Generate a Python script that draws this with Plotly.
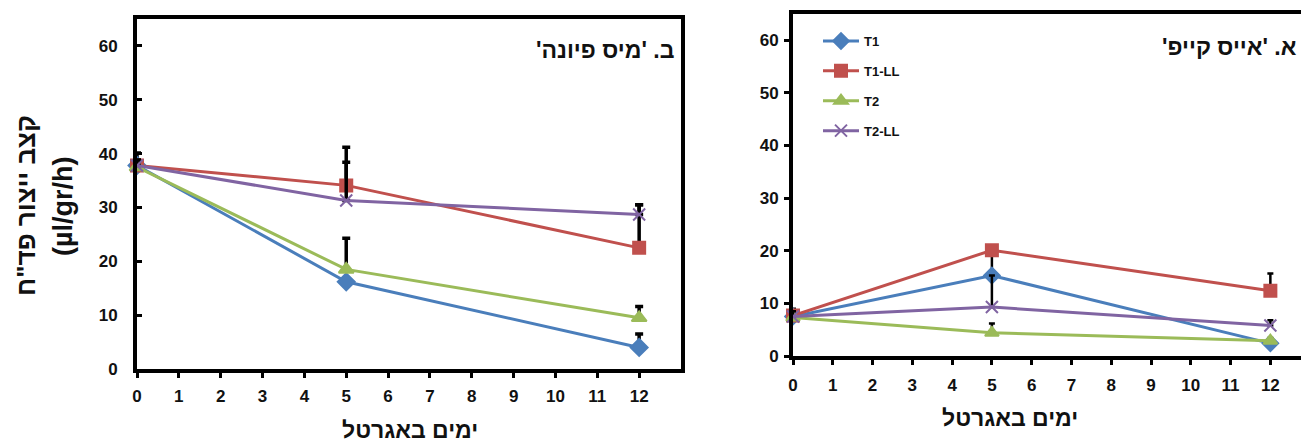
import plotly.graph_objects as go

days = [0, 5, 12]
series_names = ["T1", "T1-LL", "T2", "T2-LL"]

# Panel B: 'מיס פיונה' (left)
b_T1 = [37.8, 16.2, 4.0]
b_T1LL = [37.8, 34.1, 22.5]
b_T2 = [37.5, 18.5, 9.5]
b_T2LL = [37.8, 31.3, 28.7]
b_T1_err = [2.3, 0.5, 2.5]
b_T1LL_err = [1.0, 7.1, 8.0]
b_T2_err = [1.0, 5.8, 2.1]
b_T2LL_err = [1.0, 7.1, 1.8]

# Panel A: 'אייס קייפ' (right)
a_T1 = [7.5, 15.3, 2.4]
a_T1LL = [7.7, 20.1, 12.4]
a_T2 = [7.3, 4.4, 2.9]
a_T2LL = [7.5, 9.3, 5.8]
a_T1_err = [1.5, 4.8, 0.5]
a_T1LL_err = [1.0, 0.5, 3.3]
a_T2_err = [0.8, 1.8, 0.5]
a_T2LL_err = [1.0, 6.0, 1.0]

x_ticks = list(range(0, 13))
y_ticks = [0, 10, 20, 30, 40, 50, 60]

title_b = "ב. 'מיס פיונה'"
title_a = "א. 'אייס קייפ'"
x_title = "ימים באגרטל"
y_title_1 = 'קצב ייצור פד"ח'
y_title_2 = "(µl/gr/h)"

RLE, PDF = "\u202b", "\u202c"
def rtl(s):
    return RLE + s + PDF

colors = ["#4A7EBB", "#C0504D", "#9BBB59", "#8064A2"]
symbols = ["diamond", "square", "triangle-up", "x-thin"]
msizes = [13, 12, 13, 12]
msizes_r = [12, 12, 12, 12]

FONT = "Liberation Sans, Arial, DejaVu Sans, sans-serif"

fig = go.Figure()

left_vals = [b_T1, b_T1LL, b_T2, b_T2LL]
left_errs = [b_T1_err, b_T1LL_err, b_T2_err, b_T2LL_err]
right_vals = [a_T1, a_T1LL, a_T2, a_T2LL]
right_errs = [a_T1_err, a_T1LL_err, a_T2_err, a_T2LL_err]

for i, name in enumerate(series_names):
    fig.add_trace(go.Scatter(
        x=days, y=left_vals[i], name=name, mode="lines+markers",
        line=dict(color=colors[i], width=3),
        marker=dict(symbol=symbols[i], size=msizes[i], color=colors[i],
                    line=dict(color=colors[i], width=2)),
        error_y=dict(type="data", symmetric=False, array=left_errs[i],
                     arrayminus=[0, 0, 0], color="black", thickness=3.5, width=4),
        xaxis="x", yaxis="y", showlegend=False, cliponaxis=False,
    ))

for i, name in enumerate(series_names):
    fig.add_trace(go.Scatter(
        x=days, y=right_vals[i], name=name, mode="lines+markers",
        line=dict(color=colors[i], width=3),
        marker=dict(symbol=symbols[i], size=msizes_r[i], color=colors[i],
                    line=dict(color=colors[i], width=2)),
        error_y=dict(type="data", symmetric=False, array=right_errs[i],
                     arrayminus=[0, 0, 0], color="black", thickness=2.5, width=3),
        xaxis="x2", yaxis="y2", showlegend=True, legendgroup=name, cliponaxis=False,
    ))

W, H = 1301, 444
def px_x(p): return p / W
def px_y(p): return 1 - p / H

axis_common = dict(showgrid=False, zeroline=False, showline=True, linecolor="black",
                   tickcolor="black", ticklen=5, tickwidth=3, automargin=False)

fig.update_layout(
    width=W, height=H,
    margin=dict(l=0, r=0, t=0, b=0, autoexpand=False),
    paper_bgcolor="white", plot_bgcolor="white",
    font=dict(family=FONT, color="#111111"),
    xaxis=dict(domain=[px_x(137), px_x(681)], range=[0, 13], tickvals=x_ticks,
               ticks="outside", mirror=True, linewidth=4, anchor="y",
               tickfont=dict(size=17, weight="bold", family=FONT, color="#111111"),
               ticklabelstandoff=4, **axis_common),
    yaxis=dict(domain=[px_y(369), px_y(19)], range=[0, 65], tickvals=y_ticks,
               ticks="inside", mirror=True, linewidth=4, anchor="x",
               tickfont=dict(size=17, weight="bold", family=FONT, color="#111111"),
               ticklabelstandoff=12, **axis_common),
    xaxis2=dict(domain=[px_x(793), 1.0], range=[0, 12.77], tickvals=x_ticks,
                ticks="outside", mirror=True, linewidth=4, anchor="y2",
                tickfont=dict(size=17, weight="bold", family=FONT, color="#111111"),
                ticklabelstandoff=6, **axis_common),
    yaxis2=dict(domain=[px_y(356), px_y(14)], range=[0, 65], tickvals=y_ticks,
                ticks="outside", mirror=False, linewidth=4, anchor="x2",
                tickfont=dict(size=17, weight="bold", family=FONT, color="#111111"),
                ticklabelstandoff=2, **axis_common),
    legend=dict(x=px_x(818), y=px_y(26), xanchor="left", yanchor="top",
                bgcolor="rgba(0,0,0,0)", tracegroupgap=10,
                font=dict(size=13, weight="bold", family=FONT, color="#111111"),
                itemwidth=36),
)

ann_font = dict(family=FONT, size=23, weight="bold", color="#111111")
fig.add_annotation(text=rtl(title_b), x=px_x(676), y=px_y(50), xref="paper", yref="paper",
                   xanchor="right", yanchor="middle", showarrow=False, font=ann_font)
fig.add_annotation(text=rtl(title_a), x=px_x(1299), y=px_y(47), xref="paper", yref="paper",
                   xanchor="right", yanchor="middle", showarrow=False, font=ann_font)
xt_font = dict(family=FONT, size=23, weight="bold", color="#111111")
fig.add_annotation(text=rtl(x_title), x=px_x(410), y=px_y(430), xref="paper", yref="paper",
                   xanchor="center", yanchor="middle", showarrow=False, font=xt_font)
fig.add_annotation(text=rtl(x_title), x=px_x(1010), y=px_y(418), xref="paper", yref="paper",
                   xanchor="center", yanchor="middle", showarrow=False, font=xt_font)
fig.add_annotation(text=rtl(y_title_1), x=px_x(26), y=px_y(206), xref="paper", yref="paper",
                   xanchor="center", yanchor="middle", showarrow=False, textangle=-90,
                   font=dict(family=FONT, size=26, weight="bold", color="#111111"))
fig.add_annotation(text=y_title_2, x=px_x(63), y=px_y(206), xref="paper", yref="paper",
                   xanchor="center", yanchor="middle", showarrow=False, textangle=-90,
                   font=dict(family=FONT, size=27, weight="bold", color="#111111"))

fig.write_html("out.html", config={"displayModeBar": False},
               post_script="document.body.style.margin='0';document.body.style.overflow='hidden';")
